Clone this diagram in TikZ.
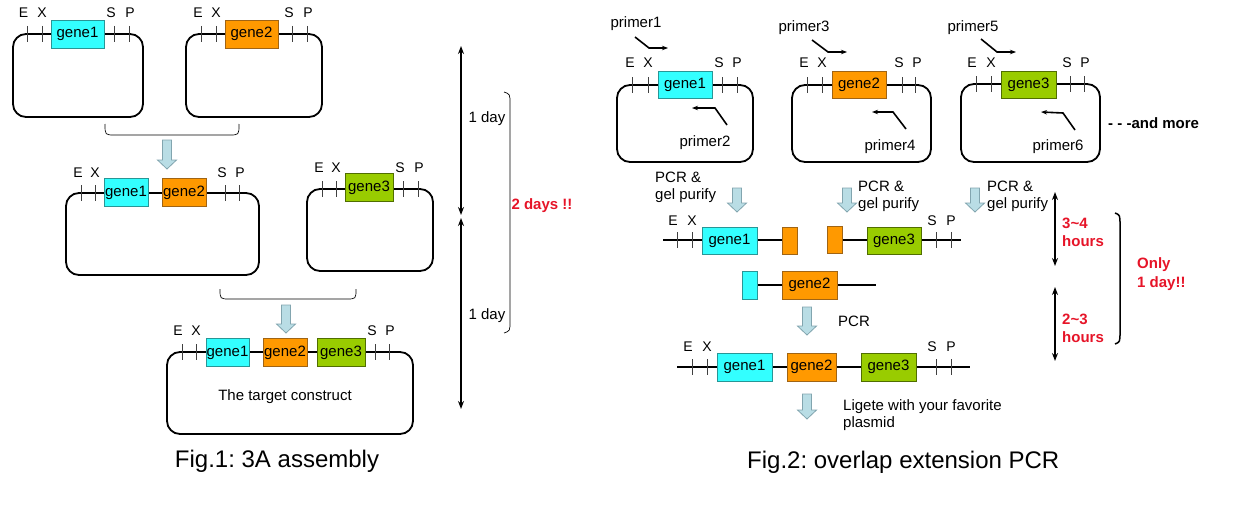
\documentclass[tikz,border=0pt]{standalone}
\usepackage{fontspec}
\setmainfont{Liberation Sans}
\usetikzlibrary{arrows.meta}
\frenchspacing
\definecolor{cyanF}{RGB}{51,255,255}
\definecolor{cyanD}{RGB}{40,150,150}
\definecolor{orF}{RGB}{255,153,0}
\definecolor{orD}{RGB}{160,100,20}
\definecolor{grF}{RGB}{153,204,0}
\definecolor{grD}{RGB}{80,110,0}
\definecolor{arF}{RGB}{185,221,229}
\definecolor{arD}{RGB}{130,165,175}
\definecolor{redT}{RGB}{230,20,40}
\newcommand\bdown[3]{%
  \draw[barrow] (#1-4.5,#2) -- (#1+4.5,#2) -- (#1+4.5,#3-9) -- (#1+9.5,#3-9) -- (#1,#3) -- (#1-9.5,#3-9) -- (#1-4.5,#3-9) -- cycle;}
\newcommand\tks[2]{\draw[tk] (#1,#2-8) -- (#1,#2+8);}
\tikzset{
  lab/.style={font=\fontsize{14}{16}\selectfont, inner sep=0},
  txt/.style={font=\fontsize{15}{17}\selectfont, inner sep=0, align=left},
  redb/.style={font=\fontsize{15}{18.5}\selectfont\bfseries, text=redT, inner sep=0, align=left},
  gene/.style={draw, line width=0.8pt, minimum height=28, inner sep=0, font=\fontsize{15}{17}\selectfont},
  g1/.style={gene, fill=cyanF, draw=cyanD},
  g2/.style={gene, fill=orF, draw=orD},
  g3/.style={gene, fill=grF, draw=grD},
  plasmid/.style={line width=1.8pt, rounded corners=13pt},
  tk/.style={line width=1pt, draw=black!75},
  dna/.style={line width=1.5pt},
  barrow/.style={fill=arF, draw=arD, line width=0.8pt},
  primer/.style={line width=1.6pt, -{Stealth[length=6pt,width=4.5pt]}},
  timearrow/.style={line width=1.5pt, {Stealth[length=8pt,width=6pt]}-{Stealth[length=8pt,width=6pt]}},
  brace/.style={line width=0.7pt},
  figcap/.style={font=\fontsize{24}{28}\selectfont, inner sep=0},
}
\begin{document}
\begin{tikzpicture}[x=1pt,y=-1pt]
\useasboundingbox (0,0) rectangle (1241,519);
% ================= Fig.1 =================
% plasmid 1
\draw[plasmid] (13,34) rectangle (143,117);
\foreach \x in {27,42,114,129} {\tks{\x}{34}}
\node[g1, minimum width=53] (a1g1) at (77.5,34) {gene1};
\node[lab] (a1E) at (23.5,13) {E};
\node[lab] (a1X) at (42,13) {X};
\node[lab] (a1S) at (111,13) {S};
\node[lab] (a1P) at (130,13) {P};
% plasmid 2
\draw[plasmid] (186,34) rectangle (322,117);
\foreach \x in {201,216,292,307} {\tks{\x}{34}}
\node[g2, minimum width=53] (a2g2) at (251.5,34) {gene2};
\node[lab] (a2E) at (198,13) {E};
\node[lab] (a2X) at (216,13) {X};
\node[lab] (a2S) at (289,13) {S};
\node[lab] (a2P) at (308,13) {P};
% bracket 1 and arrow
\draw[brace] (105,124) .. controls (105,135) .. (115,135) -- (229,135) .. controls (239,135) .. (239,124);
\bdown{167}{140}{169}
% plasmid 3
\draw[plasmid] (66,193) rectangle (259,275);
\foreach \x in {81,95,225,239} {\tks{\x}{193}}
\node[g1, minimum width=44] (a3g1) at (126,192.5) {gene1};
\node[g2, minimum width=44] (a3g2) at (184,192.5) {gene2};
\node[lab] (a3E) at (78,173) {E};
\node[lab] (a3X) at (95,173) {X};
\node[lab] (a3S) at (222,173) {S};
\node[lab] (a3P) at (240,173) {P};
% plasmid 4
\draw[plasmid] (307,189) rectangle (433,271);
\foreach \x in {322,336,403,418} {\tks{\x}{189}}
\node[g3, minimum width=48] (a4g3) at (369,187.5) {gene3};
\node[lab] (a4E) at (319,168) {E};
\node[lab] (a4X) at (336,168) {X};
\node[lab] (a4S) at (400,168) {S};
\node[lab] (a4P) at (419,168) {P};
% bracket 2 and arrow
\draw[brace] (220,289) .. controls (220,299) .. (230,299) -- (346,299) .. controls (356,299) .. (356,289);
\bdown{286}{305}{333}
% plasmid 5
\draw[plasmid] (167,352) rectangle (413,434);
\foreach \x in {182,196,375,389} {\tks{\x}{352}}
\node[g1, minimum width=43] (a5g1) at (227.5,352.5) {gene1};
\node[g2, minimum width=44] (a5g2) at (285,352.5) {gene2};
\node[g3, minimum width=48] (a5g3) at (341,352.5) {gene3};
\node[lab] (a5E) at (178,331) {E};
\node[lab] (a5X) at (196,331) {X};
\node[lab] (a5S) at (372,331) {S};
\node[lab] (a5P) at (390,331) {P};
\node[txt] (target) at (285,397) {The target construct};
\node[figcap] (fig1) at (277,461) {Fig.1: 3A assembly};
% time arrows
\coordinate (t1) at (461,46);
\coordinate (t2) at (461,215);
\coordinate (t3) at (461,218);
\coordinate (t4) at (461,409);
\draw[timearrow] (t1) -- (t2);
\draw[timearrow] (t3) -- (t4);
\node[txt] (day1) at (487,119) {1 day};
\node[txt] (day2) at (487,316) {1 day};
\draw[brace] (504,92) .. controls (510,94) .. (510,104) -- (510,321) .. controls (510,331) .. (504,333);
\node[redb] (twodays) at (542,206) {2 days !!};
% ================= Fig.2 =================
% plasmid A
\draw[plasmid] (617,85) rectangle (753,162);
\foreach \x in {632,648,722,737} {\tks{\x}{85}}
\node[g1, minimum width=54, minimum height=27] (b1g1) at (685,84.5) {gene1};
\node[lab] (b1E) at (630,63) {E};
\node[lab] (b1X) at (648,63) {X};
\node[lab] (b1S) at (719,63) {S};
\node[lab] (b1P) at (737,63) {P};
\node[txt] (pr1) at (636,24) {primer1};
\coordinate (pr1a) at (635,37);
\coordinate (pr1b) at (649,48);
\coordinate (pr1c) at (668,48);
\draw[primer] (pr1a) -- (pr1b) -- (pr1c);
\coordinate (pr2a) at (727,125);
\coordinate (pr2b) at (715,108);
\coordinate (pr2c) at (692,108);
\draw[primer] (pr2a) -- (pr2b) -- (pr2c);
\node[txt] (pr2) at (705,143) {primer2};
% plasmid B
\draw[plasmid] (792,85) rectangle (931,162);
\foreach \x in {807,822,902,915} {\tks{\x}{85}}
\node[g2, minimum width=54, minimum height=27] (b2g2) at (859,84.5) {gene2};
\node[lab] (b2E) at (804,63) {E};
\node[lab] (b2X) at (822,63) {X};
\node[lab] (b2S) at (899,63) {S};
\node[lab] (b2P) at (917,63) {P};
\node[txt] (pr3) at (804,28) {primer3};
\coordinate (pr3a) at (812,40);
\coordinate (pr3b) at (828,52);
\coordinate (pr3c) at (847,52);
\draw[primer] (pr3a) -- (pr3b) -- (pr3c);
\coordinate (pr4a) at (906,129);
\coordinate (pr4b) at (893,112);
\coordinate (pr4c) at (872,112);
\draw[primer] (pr4a) -- (pr4b) -- (pr4c);
\node[txt] (pr4) at (890,147) {primer4};
% plasmid C
\draw[plasmid] (961,84) rectangle (1100,162);
\foreach \x in {976,991,1070,1084} {\tks{\x}{84}}
\node[g3, minimum width=55, minimum height=27] (b3g3) at (1028.5,84.5) {gene3};
\node[lab] (b3E) at (972,63) {E};
\node[lab] (b3X) at (991,63) {X};
\node[lab] (b3S) at (1067,63) {S};
\node[lab] (b3P) at (1085,63) {P};
\node[txt] (pr5) at (973,28) {primer5};
\coordinate (pr5a) at (981,39);
\coordinate (pr5b) at (997,52);
\coordinate (pr5c) at (1016,52);
\draw[primer] (pr5a) -- (pr5b) -- (pr5c);
\coordinate (pr6a) at (1075,130);
\coordinate (pr6b) at (1063,113);
\coordinate (pr6c) at (1041,112);
\draw[primer] (pr6a) -- (pr6b) -- (pr6c);
\node[txt] (pr6) at (1058,147) {primer6};
\node[txt, font=\fontsize{15}{17}\selectfont\bfseries, anchor=west] (more) at (1108,123) {- - -and more};
% PCR & gel purify
\node[txt, anchor=west] (pcr1) at (655,187.5) {PCR \&\\gel purify};
\bdown{737}{188}{212}
\node[txt, anchor=west] (pcr2) at (858,196.5) {PCR \&\\gel purify};
\bdown{847}{188}{212}
\node[txt, anchor=west] (pcr3) at (987,196.5) {PCR \&\\gel purify};
\bdown{975}{188}{212}
% row 1
\coordinate (r1a) at (663,240);
\coordinate (r1b) at (785,240);
\coordinate (r1c) at (840,240);
\coordinate (r1d) at (961,240);
\draw[dna] (r1a) -- (r1b);
\draw[dna] (r1c) -- (r1d);
\foreach \x in {677,692,936,951} {\tks{\x}{240}}
\node[lab] (c1E) at (673,221) {E};
\node[lab] (c1X) at (692,221) {X};
\node[lab] (c1S) at (932,221) {S};
\node[lab] (c1P) at (951,221) {P};
\node[g1, minimum width=55, minimum height=27] (c1g1) at (729.5,240.5) {gene1};
\node[g2, minimum width=15, minimum height=27] (c1o1) at (789.5,240.5) {};
\node[g2, minimum width=15, minimum height=27] (c1o2) at (834.5,240) {};
\node[g3, minimum width=54, minimum height=27] (c1g3) at (894,240.5) {gene3};
% row 2
\coordinate (r2a) at (755,285);
\coordinate (r2b) at (876,285);
\draw[dna] (r2a) -- (r2b);
\node[g1, minimum width=15, minimum height=28] (c2c) at (749.5,285) {};
\node[g2, minimum width=55, minimum height=28] (c2g2) at (809.5,285) {gene2};
% PCR arrow
\bdown{807}{307}{335}
\node[txt] (pcr4) at (854,321) {PCR};
% row 3
\coordinate (r3a) at (677,367);
\coordinate (r3b) at (970,367);
\draw[dna] (r3a) -- (r3b);
\foreach \x in {692,707,936,951} {\tks{\x}{367}}
\node[lab] (c3E) at (688,347) {E};
\node[lab] (c3X) at (707,347) {X};
\node[lab] (c3S) at (932,347) {S};
\node[lab] (c3P) at (951,347) {P};
\node[g1, minimum width=55, minimum height=28] (c3g1) at (744.5,367) {gene1};
\node[g2, minimum width=49, minimum height=28] (c3g2) at (811.5,367) {gene2};
\node[g3, minimum width=55, minimum height=28] (c3g3) at (888.5,367) {gene3};
% ligate
\bdown{807}{394}{419}
\node[txt, anchor=west] (lig) at (843,415.5) {Ligete with your favorite\\plasmid};
\node[figcap, anchor=west] (fig2) at (747,462) {Fig.2: overlap extension PCR};
% right time arrows
\coordinate (u1) at (1055,192);
\coordinate (u2) at (1055,266);
\coordinate (u3) at (1055,287);
\coordinate (u4) at (1055,361);
\draw[timearrow] (u1) -- (u2);
\draw[timearrow] (u3) -- (u4);
\node[redb, anchor=west] (h34) at (1062,232.5) {3\textasciitilde4\\hours};
\node[redb, anchor=west] (h23) at (1062,328.5) {2\textasciitilde3\\hours};
\draw[line width=1.5pt] (1115,213) .. controls (1120,215) .. (1120,225) -- (1120,332) .. controls (1120,342) .. (1115,344);
\node[redb, anchor=west] (only) at (1137,274) {Only\\1 day!!};
\end{tikzpicture}
\end{document}
